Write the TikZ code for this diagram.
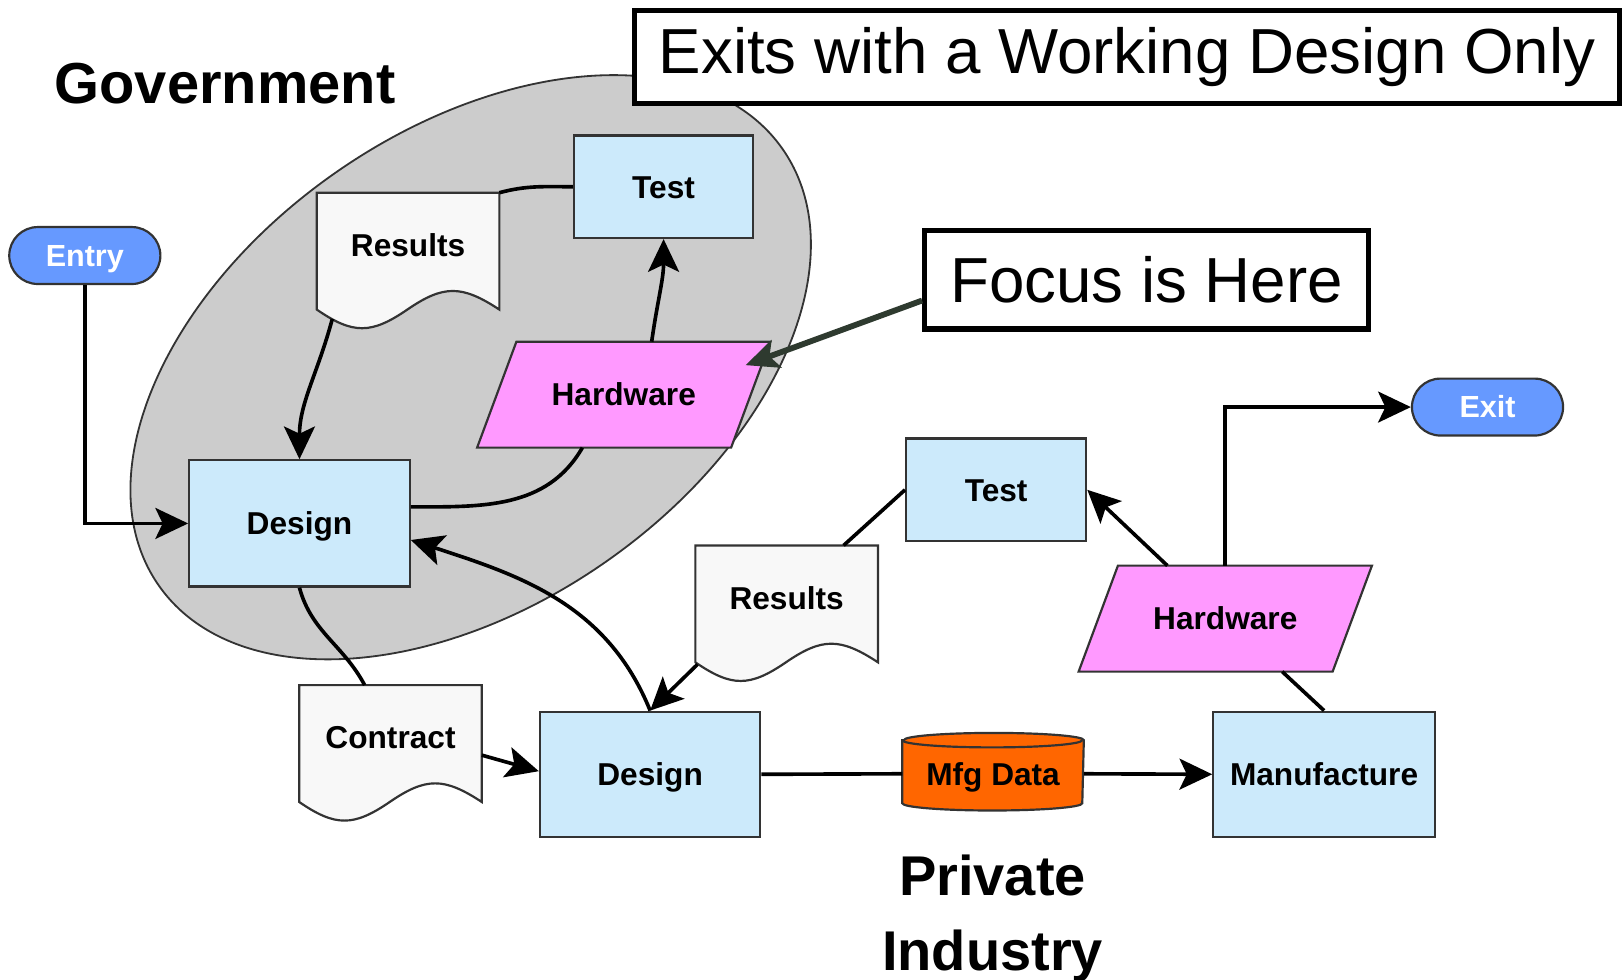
\documentclass[tikz,border=0pt]{standalone}
\usepackage{fontspec}
\setmainfont{Liberation Sans}
\usetikzlibrary{arrows.meta,calc}
\pgfdeclarelayer{bg}
\pgfsetlayers{bg,main}

\definecolor{boxblue}{HTML}{CCEAFB}
\definecolor{hwpink}{HTML}{FF99FF}
\definecolor{docfill}{HTML}{F8F8F8}
\definecolor{pillblue}{HTML}{6699FF}
\definecolor{mfgorange}{HTML}{FF6600}
\definecolor{regiongray}{HTML}{CCCCCC}
\definecolor{edge}{HTML}{333333}
\definecolor{pointergray}{HTML}{2E3A2F}

\newcommand\lblfont{\fontsize{8.7pt}{10pt}\selectfont\bfseries}
\newcommand\pillfont{\fontsize{8.4pt}{10pt}\selectfont\bfseries}
\newcommand\calloutfont{\fontsize{17.5pt}{21pt}\selectfont}
\newcommand\headfont{\fontsize{15.9pt}{19pt}\selectfont\bfseries}
\newcommand\subheadfont{\fontsize{15.4pt}{20.65pt}\selectfont\bfseries}

% document symbol with a wavy lower edge, drawn around a label node
\newcommand\docoutline[1]{%
  \filldraw[docshape] (#1.north west) -- ($(#1.north west)+(0,-113)$)
    .. controls ($(#1.north west)+(35,-137)$) and ($(#1.north west)+(52.5,-137)$)
    .. ($(#1.north west)+(87.5,-113)$)
    .. controls ($(#1.north west)+(122.5,-89)$) and ($(#1.north west)+(140,-89)$)
    .. ($(#1.north east)+(0,-113)$)
    -- (#1.north east) -- cycle;}
% slanted data symbol around a label node
\newcommand\paraoutline[1]{%
  \filldraw[hwshape] ($(#1.north west)+(19,0)$) -- ($(#1.north east)+(19,0)$)
    -- ($(#1.south east)+(-19,0)$) -- ($(#1.south west)+(-19,0)$) -- cycle;}

\begin{document}
\begin{tikzpicture}[x=0.01cm, y=0.01cm,
  lbl/.style={font=\lblfont, text height=6.2pt, text depth=0pt},
  procbox/.style={lbl, draw=edge, line width=0.6pt, fill=boxblue, inner sep=0pt},
  pill/.style={draw=edge, line width=0.6pt, fill=pillblue, rounded corners=0.275cm,
    minimum width=1.46cm, minimum height=0.55cm, inner sep=0pt, text=white,
    font=\pillfont, text height=6pt, text depth=0pt},
  doclabel/.style={lbl, inner sep=0pt, minimum width=1.75cm, minimum height=1cm},
  docshape/.style={draw=edge, line width=0.6pt, fill=docfill},
  hwlabel/.style={lbl, inner sep=0pt, minimum width=2.44cm, minimum height=1.01cm},
  hwshape/.style={draw=edge, line width=0.6pt, fill=hwpink},
  cyllabel/.style={lbl, inner sep=0pt, minimum width=1.74cm, minimum height=0.68cm},
  cylshape/.style={draw=edge, line width=0.6pt, fill=mfgorange},
  region/.style={draw=edge, line width=0.5pt, fill=regiongray},
  link/.style={line width=1pt, draw=black},
  arrow/.style={link, -{Stealth[length=9pt, width=8.5pt, inset=2pt]}},
  pointer/.style={line width=1.6pt, draw=pointergray,
    -{Stealth[length=9pt, width=8pt, inset=2pt]}},
  callout/.style={draw=black, line width=1.4pt, fill=white, inner sep=0pt, font=\calloutfont},
  heading/.style={inner sep=0pt, font=\headfont},
  subheading/.style={inner sep=0pt, font=\subheadfont, align=center}]

\useasboundingbox (0,0) rectangle (1568,-947);

% ---- government loop ----
\node[pill] (entry) at (82,-247) {Entry};
\node[procbox, minimum width=1.73cm, minimum height=0.99cm] (tg) at (641.5,-180.5) {Test};
\node[doclabel] (rg) at (394.5,-237) {Results};
\node[hwlabel] (hg) at (603,-381.5) {Hardware};
\node[procbox, minimum width=2.13cm, minimum height=1.22cm] (dg) at (289.5,-506) {Design};

% ---- private industry ----
\node[doclabel] (contract) at (377.5,-713) {Contract};
\node[procbox, minimum width=2.13cm, minimum height=1.21cm] (dp) at (628.5,-748.5) {Design};
\node[cyllabel] (md) at (960,-748) {Mfg Data};
\node[procbox, minimum width=2.14cm, minimum height=1.21cm] (mf) at (1280,-748.5) {Manufacture};
\node[hwlabel] (hp) at (1184.5,-598) {Hardware};
\node[procbox, minimum width=1.74cm, minimum height=0.99cm] (tp) at (963,-473.5) {Test};
\node[doclabel] (rp) at (760.5,-578) {Results};
\node[pill] (exit) at (1438,-393.5) {Exit};

% ---- headings and callouts ----
\node[heading] (gov) at (217.5,-81) {Government};
\node[subheading, anchor=north] (priv) at (959.5,-826) {Private\\Industry};
\node[callout, minimum width=9.52cm, minimum height=0.9cm] (exits) at (1089.5,-55)
  {Exits with a Working Design Only};
\node[callout, minimum width=4.29cm, minimum height=0.95cm] (focus) at (1108.5,-270.5)
  {Focus is Here};

% ---- shapes behind the labels ----
\begin{pgfonlayer}{bg}
  \filldraw[region, rotate around={35:(455,-355)}] (455,-355) ellipse [x radius=368, y radius=229];
  \docoutline{rg}
  \docoutline{contract}
  \docoutline{rp}
  \paraoutline{hg}
  \paraoutline{hp}
  \filldraw[cylshape] ($(md.west)+(0,32.5)$) -- ($(md.west)+(0,-28.5)$)
    arc[start angle=180, end angle=360, x radius=87, y radius=7]
    -- ($(md.east)+(0,32.5)$)
    arc[start angle=0, end angle=180, x radius=87, y radius=7] -- cycle;
  \draw[draw=edge, line width=0.6pt] ($(md.west)+(0,32.5)$)
    arc[start angle=180, end angle=360, x radius=87, y radius=7];
\end{pgfonlayer}

% ---- attachment points ----
\coordinate (rg-out) at ($(rg.north west)+(15,-122)$);
\coordinate (hg-top) at ($(hg.north)+(27,0)$);
\coordinate (hg-bot) at ($(hg.south)+(-40,0)$);
\coordinate (hg-tip) at ($(hg.east)+(-5,28.5)$);
\coordinate (dg-up) at ($(dg.east)+(0,16)$);
\coordinate (dg-low) at ($(dg.east)+(0,-16)$);
\coordinate (ct-top) at ($(contract.north)+(-25,0)$);
\coordinate (ct-out) at ($(contract.east)+(0,-17)$);
\coordinate (dp-in) at ($(dp.west)+(0,3)$);
\coordinate (rp-top) at ($(rp.north)+(55,0)$);
\coordinate (rp-out) at ($(rp.north west)+(2,-115)$);
\coordinate (hp-bot) at ($(hp.south)+(55,0)$);
\coordinate (hp-top) at ($(hp.north)+(-56,0)$);
\coordinate (focus-out) at ($(focus.west)+(0,-20)$);

% ---- connectors ----
\draw[arrow] (entry.south) |- (dg.west);
\draw[link] (tg.west) to[out=180, in=15] (rg.north east);
\draw[arrow] (rg-out) to[out=-105, in=90] (dg.north);
\draw[arrow] (hg-top) to[out=82, in=-90] (tg.south);
\draw[link] (dg-up) to[out=0, in=-120] (hg-bot);
\draw[link] (dg.south) to[out=-75, in=118] (ct-top);
\draw[arrow] (dp.north) to[out=112, in=-18] (dg-low);
\draw[arrow] (ct-out) -- (dp-in);
\draw[link] (dp.east) -- (md.west);
\draw[arrow] (md.east) -- (mf.west);
\draw[link] (mf.north) -- (hp-bot);
\draw[arrow] (hp-top) -- (tp.east);
\draw[arrow] (hp.north) |- (exit.west);
\draw[link] (tp.west) -- (rp-top);
\draw[arrow] (rp-out) -- (dp.north);
\draw[pointer] (focus-out) -- (hg-tip);

\end{tikzpicture}
\end{document}
